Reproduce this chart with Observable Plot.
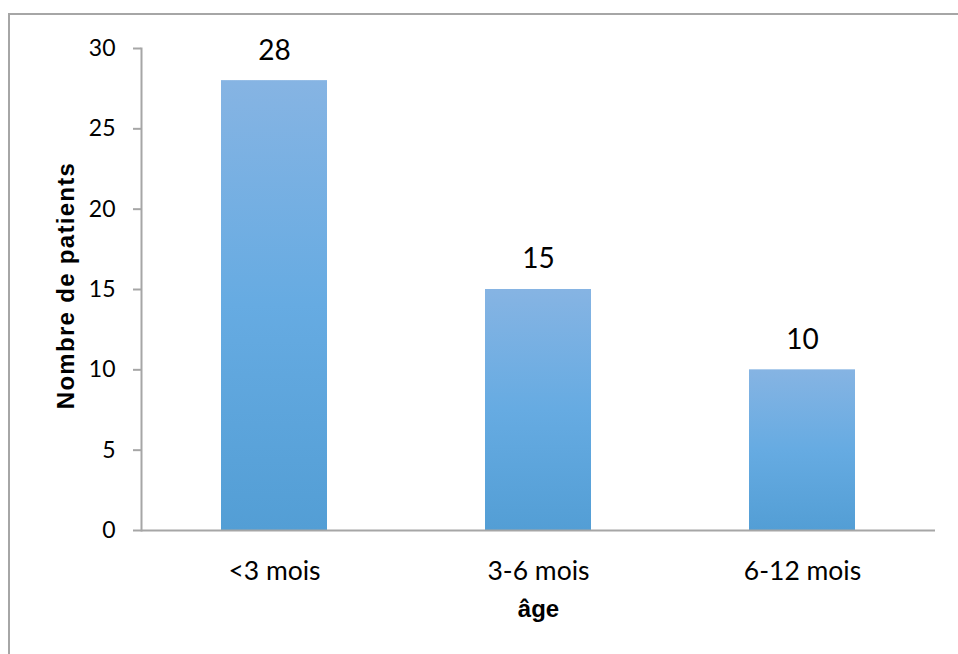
<!DOCTYPE html>
<html>
<head>
<meta charset="utf-8">
<script src="https://cdn.jsdelivr.net/npm/d3@7"></script>
<script src="https://cdn.jsdelivr.net/npm/@observablehq/plot@0.6"></script>
<style>
  html, body { margin: 0; padding: 0; background: #fff; overflow: hidden; }
  #wrap { position: relative; width: 958px; height: 654px; }
  #border { position: absolute; left: 8px; top: 13px; width: 980px; height: 700px; border: 2px solid #a6a6a6; box-sizing: border-box; }
  #chart { position: absolute; left: 0; top: 0; }
</style>
</head>
<body>
<div id="wrap">
  <div id="border"></div>
  <div id="chart"></div>
</div>
<script>
const categories = ["<3 mois", "3-6 mois", "6-12 mois"];
const values = [28, 15, 10];
const yTicks = [0, 5, 10, 15, 20, 25, 30];
const xTitle = "âge";
const yTitle = "Nombre de patients";

const data = categories.map((c, i) => ({cat: c, n: values[i]}));

const plot = Plot.plot({
  width: 958,
  height: 654,
  marginLeft: 141,
  marginRight: 23,
  marginTop: 48,
  marginBottom: 124,
  style: {fontFamily: "Lato, sans-serif", background: "transparent", overflow: "visible"},
  x: {domain: categories, paddingInner: 0.6, paddingOuter: 0.3, axis: null},
  y: {domain: [0, 30], axis: null},
  marks: [
    Plot.barY(data, {x: "cat", y: "n", fill: "url(#barGrad)"}),
    Plot.ruleY([0], {stroke: "#a6a6a6", strokeWidth: 2}),
    Plot.frame({anchor: "left", stroke: "#a6a6a6", strokeWidth: 2}),
    Plot.axisY({ticks: yTicks, tickSize: 8, tickPadding: 18, fontSize: 23, stroke: "#a6a6a6", strokeWidth: 2, fill: "black", label: null, tickFormat: d => String(d)}),
    Plot.axisX({tickSize: 0, tickPadding: 31, fontSize: 26.5, fill: "black", label: null}),
    Plot.text(data, {x: "cat", y: "n", text: d => String(d.n), dy: -30, lineAnchor: "middle", fontSize: 28, fill: "black"}),
    Plot.text([xTitle], {frameAnchor: "bottom", lineAnchor: "middle", textAnchor: "middle", dy: 79, fontSize: 24, fontWeight: "bold", fontFamily: "Liberation Sans, Arial, sans-serif", fill: "black"}),
    Plot.text([yTitle], {frameAnchor: "left", textAnchor: "middle", lineAnchor: "middle", rotate: -90, dx: -75, dy: -4, fontSize: 24, fontWeight: "bold", fontFamily: "Liberation Sans, Arial, sans-serif", fill: "black"})
  ]
});

const svg = d3.select(plot);
const defs = svg.insert("defs", ":first-child");
const grad = defs.append("linearGradient").attr("id", "barGrad").attr("x1", 0).attr("y1", 0).attr("x2", 0).attr("y2", 1);
grad.append("stop").attr("offset", "0%").attr("stop-color", "#86b4e3");
grad.append("stop").attr("offset", "50%").attr("stop-color", "#66abe2");
grad.append("stop").attr("offset", "100%").attr("stop-color", "#539ed5");
// slightly widen the rotated axis title, as in the reference
svg.selectAll("text").filter(function() { return this.textContent === yTitle; }).attr("letter-spacing", "1.3px");

document.getElementById("chart").appendChild(plot);
</script>
</body>
</html>
